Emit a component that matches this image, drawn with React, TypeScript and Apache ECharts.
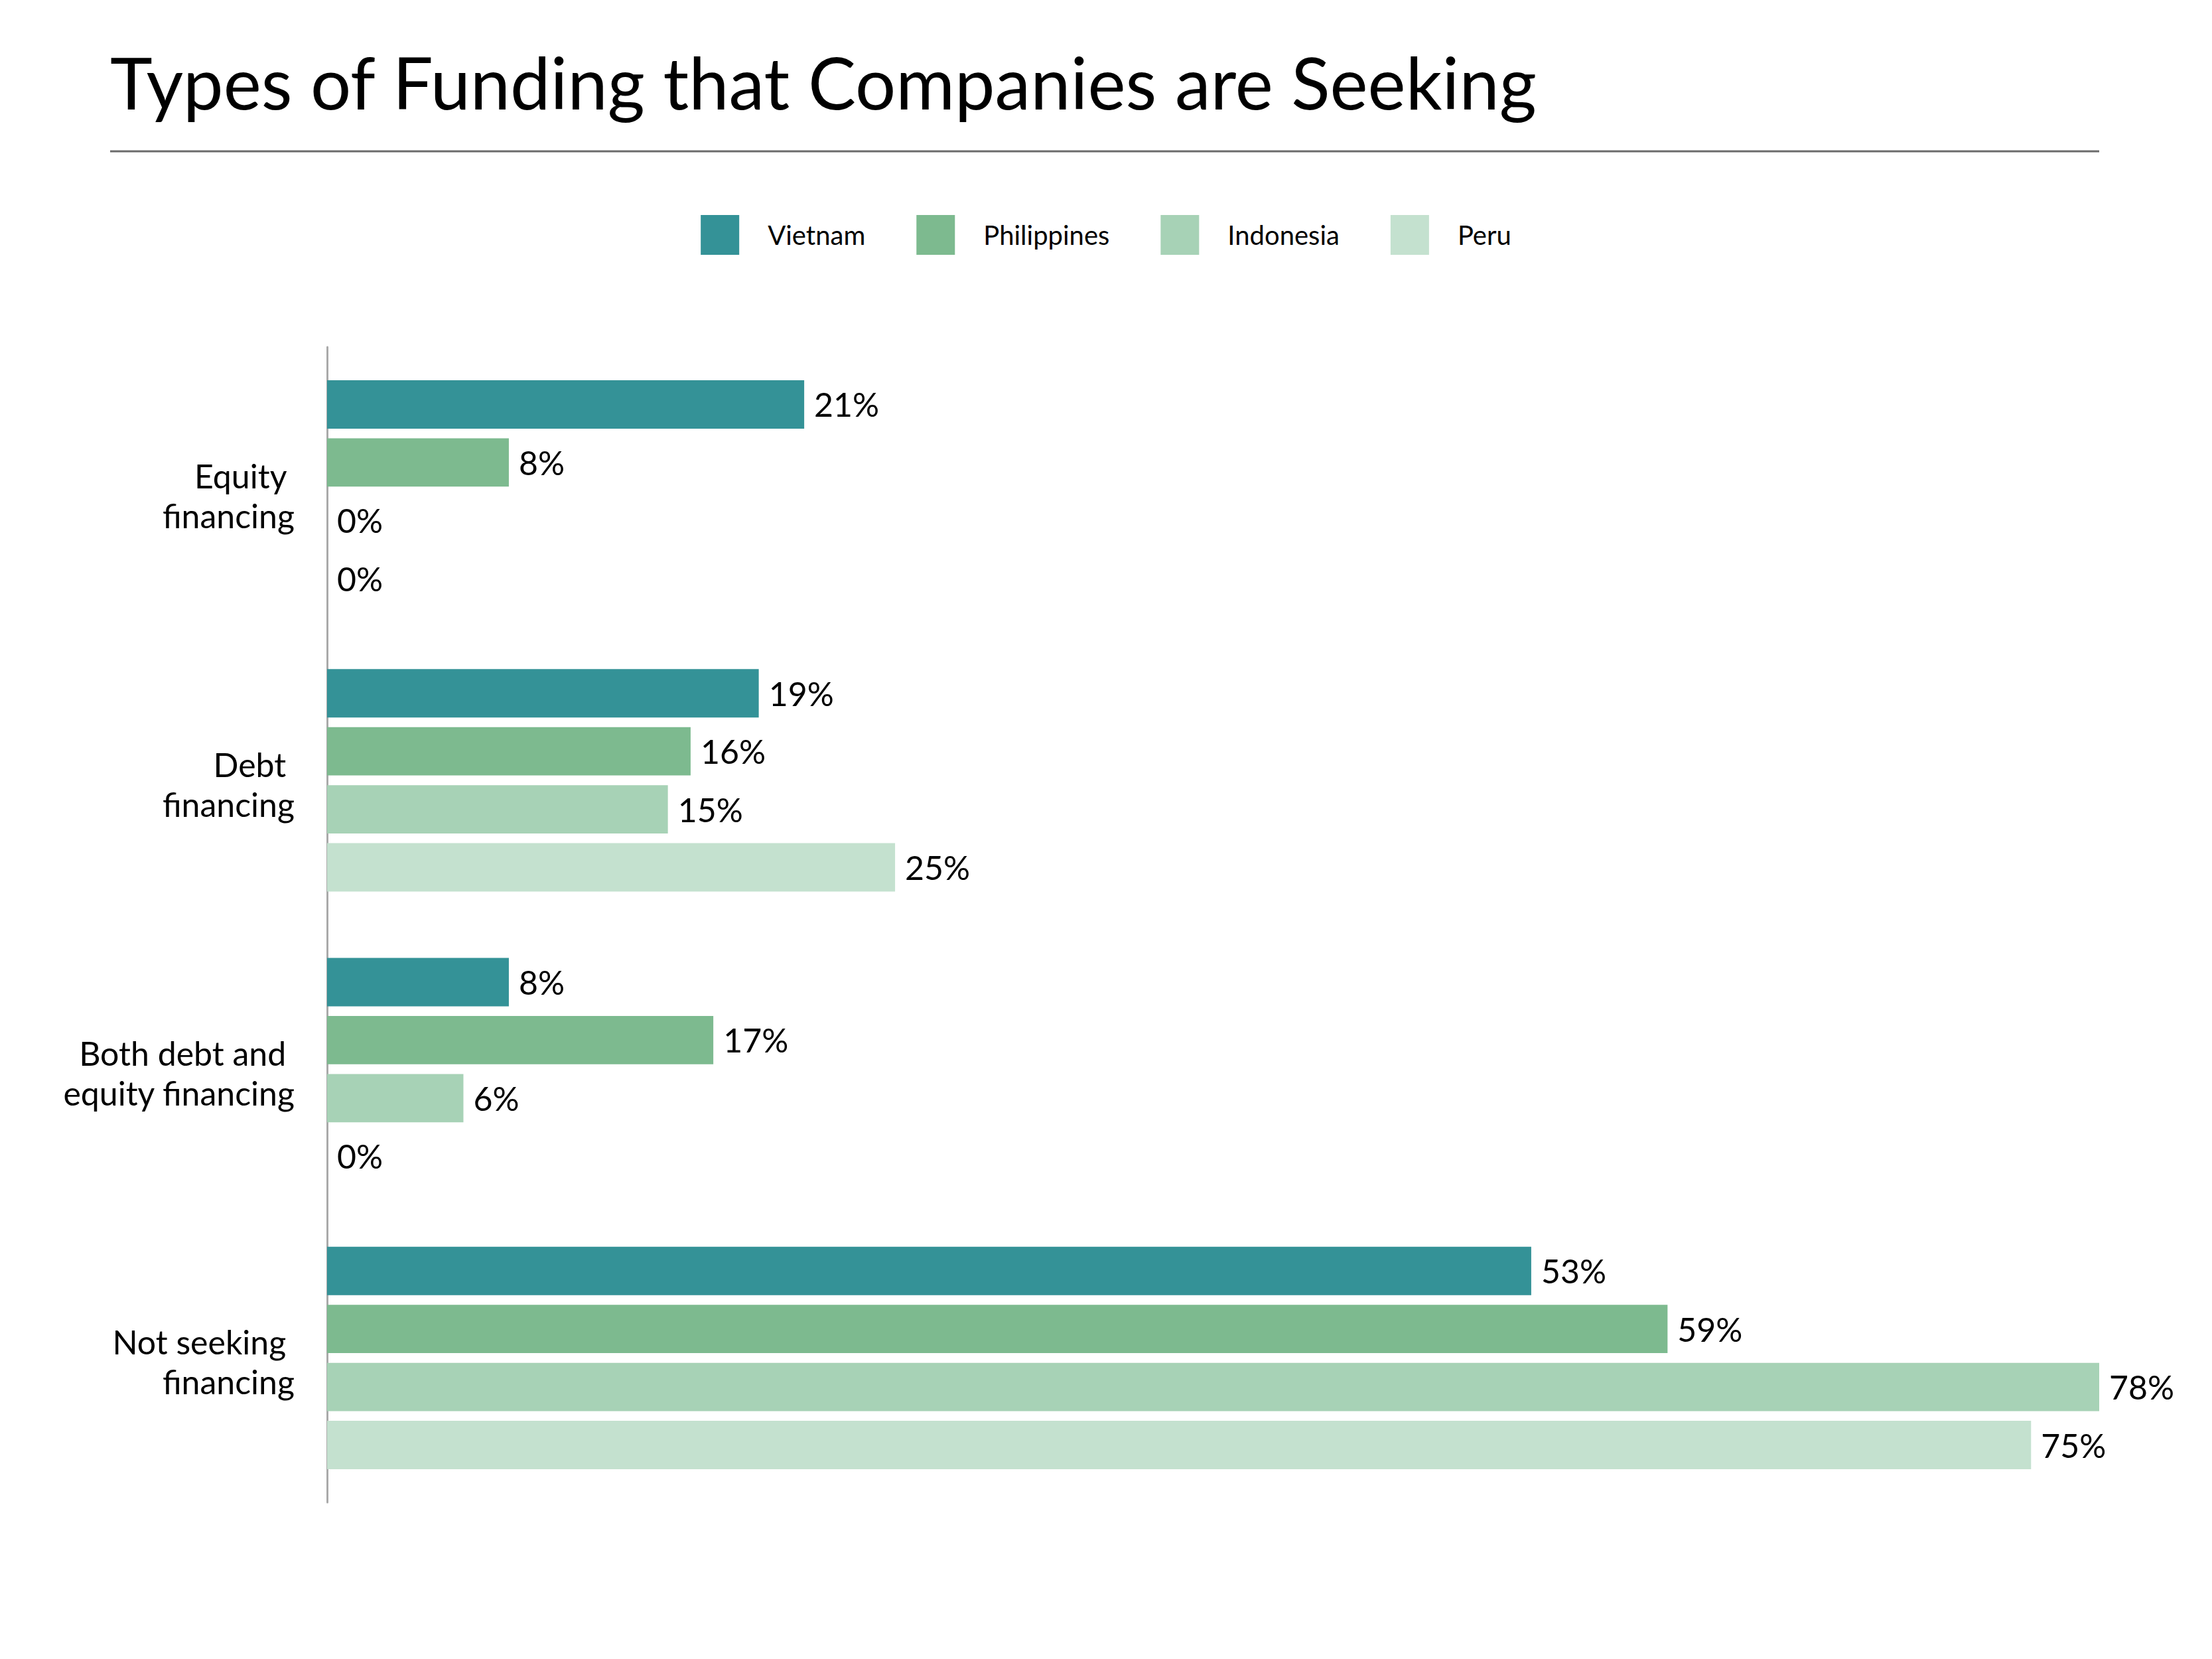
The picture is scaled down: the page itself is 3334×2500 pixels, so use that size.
import React, { useEffect, useRef } from "react";
import * as echarts from "echarts";

const categories = [
  "Equity \nfinancing",
  "Debt \nfinancing",
  "Both debt and \nequity financing",
  "Not seeking \nfinancing",
];
const seriesNames = ["Vietnam", "Philippines", "Indonesia", "Peru"];
const vietnam = [21, 19, 8, 53];
const philippines = [8, 16, 17, 59];
const indonesia = [0, 15, 6, 78];
const peru = [0, 25, 0, 75];
const colors = ["#349297", "#7dba8f", "#a7d2b6", "#c4e1cf"];

const FONT = "Lato, 'Open Sans', sans-serif";

export default function App() {
  const ref = useRef<HTMLDivElement>(null);
  useEffect(() => {
    document.body.style.margin = "0";
    if (!ref.current) return;
    const chart = echarts.init(ref.current, null, { renderer: "svg" });
    const values = [vietnam, philippines, indonesia, peru];
    const labelStyle = {
      fontFamily: FONT,
      fontSize: 50,
      lineHeight: 60,
      color: "#000000",
      align: "right",
      padding: [12, 0, 0, 0],
    };
    chart.setOption({
      animation: false,
      backgroundColor: "#ffffff",
      textStyle: { fontFamily: FONT },
      graphic: [
        {
          type: "text",
          left: 166,
          top: 69,
          style: {
            text: "Types of Funding that Companies are Seeking",
            fontFamily: FONT,
            fontSize: 108,
            fill: "#000000",
          },
        },
        {
          type: "line",
          shape: { x1: 166, y1: 228, x2: 3164, y2: 228 },
          style: { stroke: "#6b6b6b", lineWidth: 3 },
        },
      ],
      legend: {
        data: seriesNames,
        left: "center",
        top: 319,
        icon: "rect",
        itemWidth: 58,
        itemHeight: 60,
        itemGap: 77,
        textStyle: {
          fontFamily: FONT,
          fontSize: 40,
          color: "#000000",
          padding: [0, 0, 0, 38],
        },
      },
      grid: {
        left: 493,
        top: 523,
        width: 2671,
        height: 1741,
        containLabel: false,
      },
      xAxis: {
        type: "value",
        min: 0,
        max: 78,
        show: false,
      },
      yAxis: {
        type: "category",
        data: categories,
        inverse: true,
        axisLine: { show: true, lineStyle: { color: "#aaaaaa", width: 3 } },
        axisTick: { show: false },
        axisLabel: {
          fontFamily: FONT,
          fontSize: 50,
          lineHeight: 60,
          color: "#000000",
          margin: 49,
          align: "right",
          formatter: (v: string) =>
            v
              .split("\n")
              .map((s) => `{p|${s}}`)
              .join("\n"),
          rich: {
            p: { ...labelStyle },
          },
        },
        splitLine: { show: false },
      },
      series: seriesNames.map((name, i) => ({
        name,
        type: "bar",
        data: values[i],
        barGap: "20%",
        barCategoryGap: "23%",
        itemStyle: { color: colors[i] },
        label: {
          show: true,
          position: "right",
          distance: 15,
          formatter: "{c}%",
          fontFamily: FONT,
          fontSize: 50,
          color: "#000000",
        },
      })),
    });
    return () => chart.dispose();
  }, []);
  return <div ref={ref} style={{ width: 3334, height: 2500 }} />;
}
